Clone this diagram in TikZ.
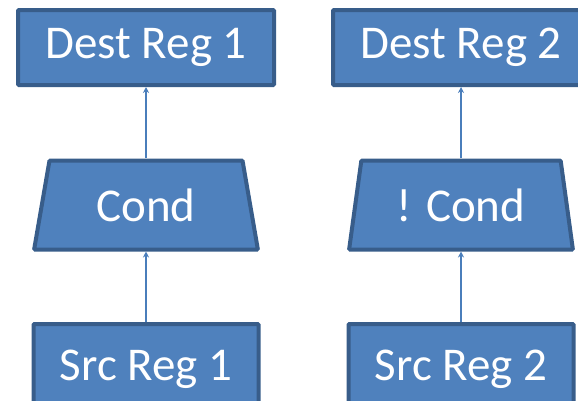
\documentclass[tikz,border=0pt]{standalone}
\usepackage{fontspec}
\setmainfont{Carlito}
\usepackage{tikz}
\usetikzlibrary{positioning}
\usetikzlibrary{shapes.geometric}
\usetikzlibrary{arrows.meta}
\definecolor{boxfill}{HTML}{4F81BD}
\definecolor{boxline}{HTML}{385D8A}
\definecolor{arrowcol}{HTML}{4A7EBB}
\tikzstyle{reg} = [draw=boxline, fill=boxfill, rectangle, line width=4pt, rounded corners=1pt, text=white, font=\fontsize{47}{56}\selectfont, minimum height=75pt]
\tikzstyle{cond} = [draw=boxline, fill=boxfill, trapezium, trapezium stretches=true, trapezium left angle=76.5, trapezium right angle=76.5, line width=4pt, rounded corners=1pt, text=white, font=\fontsize{47}{56}\selectfont, minimum height=89pt, minimum width=224pt, inner sep=0pt]
\tikzstyle{flow} = [-{Stealth[length=6pt, width=6pt]}, draw=arrowcol, line width=1.3pt]

\begin{document}
\begin{tikzpicture}[x=1pt, y=-1pt, node distance=157.5pt]
                        \useasboundingbox (0,0) rectangle (578,400);
                        \node[reg, minimum width=225pt, minimum height=90pt](S1) at (146,369) {Src Reg 1};
                        \node[cond, above of=S1, node distance=164pt](C1) {Cond};
                        \node[reg, above of=C1, minimum width=256pt](D1) {Dest Reg 1};
                        \node[reg, right of=S1, node distance=315pt, minimum width=225pt, minimum height=90pt](S2) {Src Reg 2};
                        \node[cond, above of=S2, node distance=164pt](C2) {! Cond};
                        \node[reg, above of=C2, minimum width=256pt](D2) {Dest Reg 2};

                        \draw[flow] (S1) -- (C1);
                        \draw[flow] (C1) -- (D1);
                        \draw[flow] (S2) -- (C2);
                        \draw[flow] (C2) -- (D2);
                    \end{tikzpicture}
\end{document}
